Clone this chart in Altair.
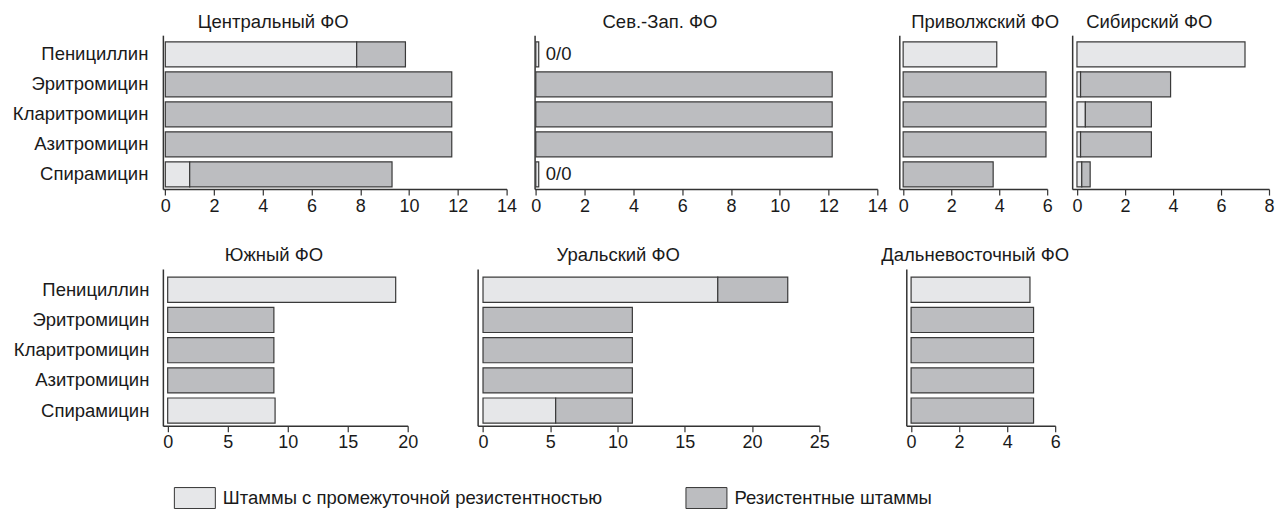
import altair as alt
import pandas as pd

FONT = "Liberation Sans"
TXT = 18.5
TICK = 18

drugs = ["Пенициллин", "Эритромицин", "Кларитромицин", "Азитромицин", "Спирамицин"]
types = ["Штаммы с промежуточной резистентностью", "Резистентные штаммы"]
colors = ["#e6e7e9", "#bcbdc0"]

# intermediate / resistant values per district
central_inter = [7.85, 0, 0, 0, 1.0]
central_resist = [2.0, 11.75, 11.75, 11.75, 8.3]
nw_inter = [0.12, 0, 0, 0, 0.12]
nw_resist = [0, 12.15, 12.15, 12.15, 0]
nw_labels = ["0/0", "", "", "", "0/0"]
volga_inter = [3.9, 0, 0, 0, 0]
volga_resist = [0, 5.95, 5.95, 5.95, 3.75]
sib_inter = [7.0, 0.15, 0.35, 0.15, 0.2]
sib_resist = [0, 3.75, 2.75, 2.95, 0.35]
south_inter = [19.0, 0, 0, 0, 8.95]
south_resist = [0, 8.85, 8.85, 8.85, 0]
ural_inter = [17.45, 0, 0, 0, 5.4]
ural_resist = [5.2, 11.1, 11.1, 11.1, 5.7]
fe_inter = [4.95, 0, 0, 0, 0]
fe_resist = [0, 5.1, 5.1, 5.1, 5.1]

legend = alt.Legend(
    title=None, orient="none", legendX=11, legendY=442, direction="horizontal",
    columns=2, columnPadding=81, gridAlign="each",
    symbolType="M-1,-0.512H1V0.512H-1Z", symbolSize=1681,
    symbolStrokeColor="#333333", symbolStrokeWidth=1, symbolOpacity=1,
    labelFontSize=TXT, labelFont=FONT, labelColor="#1a1a1a", labelOffset=7,
    labelLimit=600,
)


def panel(title, inter, resist, domain, ticks, width, height, show_labels, dx,
          labels=None, pad_outer=0.15, label_pad=15):
    rows = []
    for d, a, b in zip(drugs, inter, resist):
        rows.append({"drug": d, "type": types[0], "ord": 0, "value": a})
        rows.append({"drug": d, "type": types[1], "ord": 1, "value": b})
    df = pd.DataFrame(rows)
    yenc = alt.Y(
        "drug:N", sort=drugs,
        scale=alt.Scale(paddingInner=0.167, paddingOuter=pad_outer, align=0.75),
        axis=alt.Axis(title=None, labels=show_labels, ticks=False, labelPadding=label_pad,
                      labelFontSize=TXT, labelColor="#1a1a1a", domainColor="#333333",
                      domainWidth=1.5, labelFont=FONT, labelLimit=300),
    )
    xenc = alt.X(
        "value:Q", stack="zero",
        scale=alt.Scale(domain=domain, nice=False, zero=False),
        axis=alt.Axis(title=None, values=ticks, grid=False, tickSize=6, tickWidth=1.2,
                      tickColor="#333333", domainColor="#333333", domainWidth=1.5,
                      labelFontSize=TICK, labelColor="#1a1a1a", labelPadding=2,
                      labelFont=FONT, labelFlush=False),
    )
    bars = alt.Chart(df).transform_filter("datum.value > 0").mark_bar(
        stroke="#3a3a3a", strokeWidth=1.2
    ).encode(
        y=yenc, x=xenc,
        color=alt.Color("type:N", scale=alt.Scale(domain=types, range=colors), legend=legend),
        order=alt.Order("ord:Q"),
    )
    chart = bars
    if labels is not None:
        tdf = pd.DataFrame({"drug": drugs, "label": labels,
                            "pos": [a + b for a, b in zip(inter, resist)]})
        txt = alt.Chart(tdf).transform_filter("datum.label != ''").mark_text(
            align="left", baseline="middle", dx=7, fontSize=TXT, font=FONT, color="#1a1a1a"
        ).encode(y=alt.Y("drug:N", sort=drugs), x=alt.X("pos:Q"), text="label:N")
        chart = alt.layer(bars, txt)
    return chart.properties(
        width=width, height=height,
        title=alt.TitleParams(title, anchor="start", frame="group", dx=dx, fontSize=TXT,
                              fontWeight="normal", font=FONT, color="#1a1a1a", offset=4),
    )


p1 = panel("Центральный ФО", central_inter, central_resist, [-0.1, 14], list(range(0, 15, 2)), 344, 154, True, 35)
p2 = panel("Сев.-Зап. ФО", nw_inter, nw_resist, [-0.05, 14], list(range(0, 15, 2)), 343, 154, False, 68, nw_labels)
p3 = panel("Приволжский ФО", volga_inter, volga_resist, [-0.16, 6], [0, 2, 4, 6], 148, 154, False, 12)
p4 = panel("Сибирский ФО", sib_inter, sib_resist, [-0.2, 8], [0, 2, 4, 6, 8], 197, 154, False, 14)

p5 = panel("Южный ФО", south_inter, south_resist, [-0.4, 20], [0, 5, 10, 15, 20], 245, 157, True, 62,
           pad_outer=0.18, label_pad=14)
p6 = panel("Уральский ФО", ural_inter, ural_resist, [-0.4, 25], [0, 5, 10, 15, 20, 25], 342, 157, False, 79,
           pad_outer=0.18)
p7 = panel("Дальневосточный ФО", fe_inter, fe_resist, [-0.2, 6], [0, 2, 4, 6], 149, 157, False, -25,
           pad_outer=0.18)

row1 = alt.hconcat(
    p1,
    alt.hconcat(p2, alt.hconcat(p3, p4, spacing=25, bounds="flush"), spacing=22, bounds="flush"),
    spacing=28, bounds="flush",
)
row2 = alt.hconcat(p5, alt.hconcat(p6, p7, spacing=87, bounds="flush"), spacing=70, bounds="flush")

chart = alt.vconcat(row1, row2, spacing=31).properties(
    padding={"left": 4, "top": 4, "right": 2, "bottom": 0}
).configure(font=FONT).configure_view(stroke=None)

chart.save("out.html", embed_options={"renderer": "svg", "actions": False})
